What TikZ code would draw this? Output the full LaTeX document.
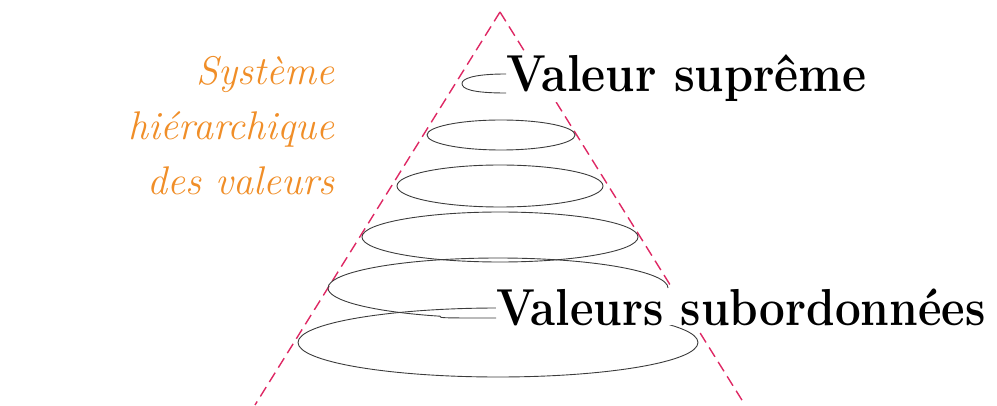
\documentclass[tikz,border=0pt]{standalone}
\usepackage{fontspec}
\usetikzlibrary{calc}
\definecolor{orangetxt}{RGB}{240,142,40}
\definecolor{pinkline}{RGB}{222,40,100}
\definecolor{spiral}{RGB}{60,60,60}
\tikzset{
  edge/.style={pinkline,line width=1.4pt,dash pattern=on 11pt off 6pt},
  spir/.style={spiral,line width=0.9pt},
  bigtxt/.style={inner sep=0pt,fill=white,font=\fontsize{52}{52}\selectfont\bfseries},
  sidetxt/.style={inner sep=0pt,anchor=base east,text=orangetxt,font=\fontsize{40}{40}\selectfont\itshape}
}
\begin{document}
\begin{tikzpicture}[x=1pt,y=1pt]
\useasboundingbox (0,0) rectangle (997,405);
\coordinate (apex) at (500,393);
\coordinate (bl) at (255,0);
\coordinate (br) at (745,0);
% side text
\node[sidetxt] (side1) at (335,320) {Système};
\node[sidetxt] (side2) at (335,265) {hiérarchique};
\node[sidetxt] (side3) at (335,210) {des valeurs};
% triangle edges
\draw[edge] (apex) -- (bl);
\draw[edge] (apex) -- ($(apex)!0.102!(br)$);
\draw[edge] ($(apex)!0.229!(br)$) -- ($(apex)!0.695!(br)$);
\draw[edge] ($(apex)!0.817!(br)$) -- (br);
% spiral rings
\draw[spir] (501,270) ellipse [x radius=74,y radius=15];
\draw[spir] (500,219) ellipse [x radius=103,y radius=21];
\draw[spir] (500,168) ellipse [x radius=138,y radius=25];
\draw[spir] (498,62.5) ellipse [x radius=200,y radius=34.5];
% labels
\node[bigtxt,anchor=base west] (sup) at (506,313) {\scalebox{0.9}[1]{Valeur suprême}};
\node[bigtxt,anchor=base west] (sub) at (496,80) {\scalebox{0.88}[1]{Valeurs subordonnées}};
% spiral ends joining the labels
\draw[spir] (sup.west |- 0,331) .. controls (472,331) and (462,326) .. (462,321.5)
            .. controls (462,316) and (472,312) .. (sup.west |- 0,312);
\draw[spir] (668,117) arc[start angle=0,end angle=250,x radius=170,y radius=30]
            .. controls (440,87) .. (sub.west |- 0,87);
\end{tikzpicture}
\end{document}
